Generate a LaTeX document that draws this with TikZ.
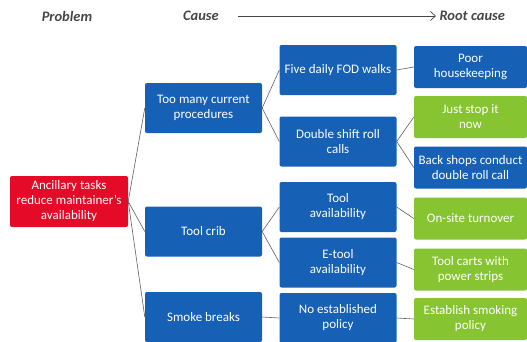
\documentclass[tikz,border=0pt]{standalone}
\usepackage{fontspec}
\setmainfont{Carlito}
\usetikzlibrary{arrows.meta}
\definecolor{boxblue}{RGB}{22,96,182}
\definecolor{boxgreen}{RGB}{134,196,50}
\definecolor{boxred}{RGB}{228,10,40}
\definecolor{linegray}{RGB}{95,95,95}
\definecolor{headgray}{RGB}{70,70,70}

\begin{document}
\begin{tikzpicture}[x=1pt, y=-1pt,
    box/.style={rounded corners=2pt, text=white, align=center, inner sep=1pt,
                font=\fontsize{13}{15}\selectfont},
    probbox/.style={box, fill=boxred, minimum width=118pt, minimum height=51pt},
    causebox/.style={box, fill=boxblue, minimum width=117pt, minimum height=50pt},
    rootbox/.style={box, fill=boxblue, minimum width=113pt, minimum height=42pt},
    fixbox/.style={rootbox, fill=boxgreen},
    head/.style={font=\fontsize{14.5}{16}\selectfont\bfseries\itshape, text=headgray},
    link/.style={draw=linegray, line width=0.6pt}
]
\useasboundingbox (0,0) rectangle (527,341);
\clip (0,0) rectangle (527,341);

% headings
\node[head] (hprob) at (67,16) {Problem};
\node[head] (hcause) at (201,16) {Cause};
\node[head, anchor=west] (hroot) at (436,16) {Root cause};
\coordinate (astart) at (238,16);
\draw[draw=headgray, line width=0.7pt, -{Straight Barb[length=1.8mm, width=3.2mm]}] (astart) -- (hroot.west);

% problem
\node[probbox] (prob) at (69,201.5) {Ancillary tasks\\reduce maintainer's\\availability};

% causes
\node[causebox] (many) at (203.5,108) {Too many current\\procedures};
\node[causebox] (crib) at (203.5,231.5) {Tool crib};
\node[causebox] (smoke) at (203.5,317) {Smoke breaks};

\node[causebox] (fod) at (338,70) {Five daily FOD walks};
\node[causebox] (roll) at (338,141.5) {Double shift roll\\calls};
\node[causebox] (tavail) at (338,207) {Tool\\availability};
\node[causebox] (etool) at (338,262.5) {E-tool\\availability};
\node[causebox] (nopol) at (338,318) {No established\\policy};

% root causes
\node[rootbox] (poor) at (470.5,67) {Poor\\housekeeping};
\node[fixbox] (stop) at (470.5,117) {Just stop it\\now};
\node[rootbox] (shops) at (470.5,167.5) {Back shops conduct\\double roll call};
\node[fixbox] (onsite) at (470.5,218.5) {On-site turnover};
\node[fixbox] (carts) at (470.5,269.5) {Tool carts with\\power strips};
\node[fixbox] (estab) at (470.5,319) {Establish smoking\\policy};

\draw[link] (prob.east) -- (many.west);
\draw[link] (prob.east) -- (crib.west);
\draw[link] (prob.east) -- (smoke.west);
\draw[link] (many.east) -- (fod.west);
\draw[link] (many.east) -- (roll.west);
\draw[link] (crib.east) -- (tavail.west);
\draw[link] (crib.east) -- (etool.west);
\draw[link] (smoke.east) -- (nopol.west);
\draw[link] (fod.east) -- (poor.west);
\draw[link] (roll.east) -- (stop.west);
\draw[link] (roll.east) -- (shops.west);
\draw[link] (tavail.east) -- (onsite.west);
\draw[link] (etool.east) -- (carts.west);
\draw[link] (nopol.east) -- (estab.west);
\end{tikzpicture}
\end{document}
